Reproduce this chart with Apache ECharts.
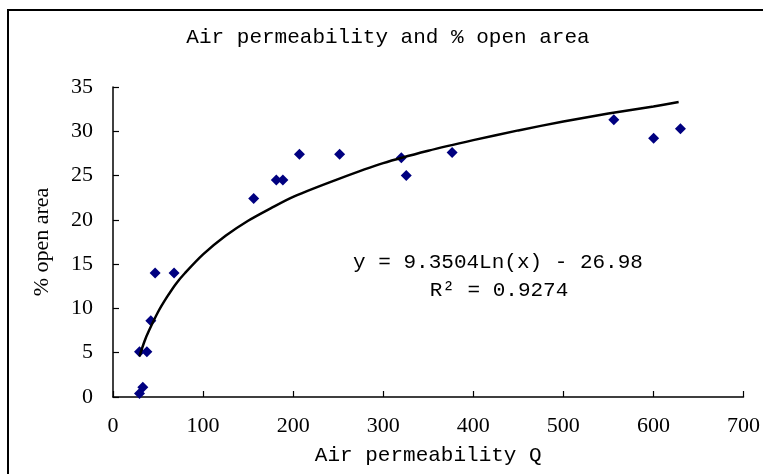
<!DOCTYPE html>
<html>
<head>
<meta charset="utf-8">
<script src="https://cdn.jsdelivr.net/npm/echarts@6/dist/echarts.min.js"></script>
<style>
html,body{margin:0;padding:0;background:#fff;}
#chart{width:763px;height:474px;}
</style>
</head>
<body>
<div id="chart"></div>
<script>
// Measured points: air permeability Q vs % open area
var permeability = [29.4, 33.1, 29.4, 37.6, 42.0, 46.8, 67.8, 156.2, 181.3, 188.6, 207.0, 251.6, 320.1, 325.6, 376.5, 556.0, 600.2, 630.0];
var openArea     = [0.4, 1.1, 5.1, 5.1, 8.6, 14.0, 14.0, 22.4, 24.5, 24.5, 27.4, 27.4, 27.0, 25.0, 27.6, 31.3, 29.2, 30.3];

// Logarithmic trend line
var trendX = [29.4, 35, 40, 50, 60, 70, 80, 100, 125, 150, 175, 200, 250, 300, 350, 400, 450, 500, 550, 600, 628];
var trendY = [4.6, 6.3, 7.5, 9.6, 11.3, 12.8, 14.0, 16.1, 18.2, 19.9, 21.3, 22.6, 24.6, 26.4, 27.8, 29.0, 30.1, 31.1, 32.0, 32.8, 33.3];

var xTicks = {min: 0, max: 700, interval: 100};
var yTicks = {min: 0, max: 35, interval: 5};

var titleText = 'Air permeability and % open area';
var xName = 'Air permeability Q';
var yName = '% open area';
var eqText = 'y = 9.3504Ln(x) - 26.98';
var r2Text = 'R\u00b2 = 0.9274';

var scatterData = permeability.map(function (x, i) { return [x, openArea[i]]; });
var trendData = trendX.map(function (x, i) { return [x, trendY[i]]; });

var chart = echarts.init(document.getElementById('chart'), null, {renderer: 'canvas'});
var axisCommon = {
  axisLine: {show: true, onZero: false, lineStyle: {color: '#000', width: 1.5}},
  axisTick: {show: true, inside: true, length: 6, lineStyle: {color: '#000', width: 1.2}},
  splitLine: {show: false},
  axisLabel: {color: '#000', fontFamily: 'Liberation Serif', fontSize: 22}
};
chart.setOption({
  backgroundColor: '#fff',
  animation: false,
  grid: {left: 113, right: 17, top: 87, bottom: 77, containLabel: false},
  xAxis: Object.assign({}, axisCommon, {
    type: 'value', min: xTicks.min, max: xTicks.max, interval: xTicks.interval,
    name: xName, nameLocation: 'middle', nameGap: 48,
    nameTextStyle: {color: '#000', fontFamily: 'Liberation Mono', fontSize: 21},
    axisLabel: Object.assign({}, axisCommon.axisLabel, {margin: 18})
  }),
  yAxis: Object.assign({}, axisCommon, {
    type: 'value', min: yTicks.min, max: yTicks.max, interval: yTicks.interval,
    name: yName, nameLocation: 'middle', nameGap: 60,
    nameTextStyle: {color: '#000', fontFamily: 'Liberation Serif', fontSize: 22},
    axisLabel: Object.assign({}, axisCommon.axisLabel, {margin: 20})
  }),
  series: [
    {
      type: 'scatter', data: scatterData, symbol: 'diamond', symbolSize: [11, 11],
      itemStyle: {color: '#000080', opacity: 1}, z: 2
    },
    {
      type: 'line', data: trendData, showSymbol: false, smooth: 0.3,
      lineStyle: {color: '#000', width: 2.5}, z: 3
    }
  ],
  graphic: [
    {type: 'rect', shape: {x: 8, y: 10, width: 800, height: 500},
     style: {fill: 'none', stroke: '#000', lineWidth: 2}, silent: true, z: 10},
    {type: 'text', x: 388, y: 37,
     style: {text: titleText, fill: '#000', font: '21px "Liberation Mono"', align: 'center', verticalAlign: 'middle'}},
    {type: 'text', x: 498, y: 262,
     style: {text: eqText, fill: '#000', font: '21px "Liberation Mono"', align: 'center', verticalAlign: 'middle'}},
    {type: 'text', x: 499, y: 290,
     style: {text: r2Text, fill: '#000', font: '21px "Liberation Mono"', align: 'center', verticalAlign: 'middle'}}
  ]
});
</script>
</body>
</html>
